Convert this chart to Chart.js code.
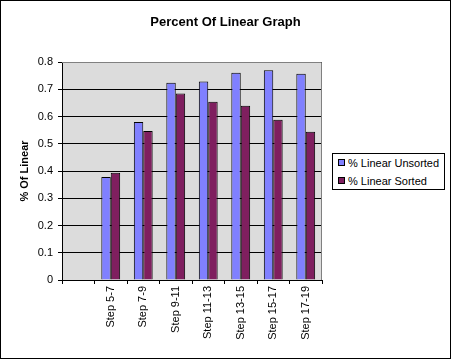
<!DOCTYPE html>
<html><head><meta charset="utf-8">
<script src="https://cdn.jsdelivr.net/npm/chart.js@4/dist/chart.umd.min.js"></script>
<style>
html,body{margin:0;padding:0;background:#fff;}
#wrap{position:absolute;left:0;top:0;width:451px;height:359px;}
#frame{position:absolute;left:0;top:0;width:451px;height:359px;box-sizing:border-box;border:1px solid #000;pointer-events:none;}
canvas{position:absolute;left:0;top:0;}
#title{position:absolute;left:0;top:14px;width:451px;text-align:center;font-family:"Liberation Sans",Arial,sans-serif;font-size:13px;font-weight:bold;line-height:15px;color:#000;}
#legend{position:absolute;left:332px;top:153px;width:113px;height:37px;box-sizing:border-box;border:1px solid #000;background:#fff;font-family:"Liberation Sans",Arial,sans-serif;font-size:11px;color:#000;}
.item{position:absolute;left:5px;height:13px;line-height:13px;white-space:nowrap;}
.sw{display:inline-block;width:5px;height:5px;border:1px solid #000;margin-right:3px;vertical-align:1px;}
</style></head>
<body>
<div id="wrap"><canvas id="c" width="451" height="359"></canvas><div id="title"></div><div id="legend"></div><div id="frame"></div></div>
<script>
const chartTitle = "Percent Of Linear Graph";
const yAxisTitle = "% Of Linear";
const categories = ["", "Step 5-7", "Step 7-9", "Step 9-11", "Step 11-13", "Step 13-15", "Step 15-17", "Step 17-19"];
const unsorted = [null, 0.378, 0.580, 0.724, 0.728, 0.761, 0.770, 0.757];
const sorted   = [null, 0.394, 0.547, 0.684, 0.654, 0.639, 0.588, 0.544];
const seriesNames = ["% Linear Unsorted", "% Linear Sorted"];
const yTicks = [0, 0.1, 0.2, 0.3, 0.4, 0.5, 0.6, 0.7, 0.8];
const colors = ["#8080FF", "#7F1F5F"];

const FONT = '"Liberation Sans", Arial, sans-serif';
Chart.defaults.font.family = FONT;
Chart.defaults.color = '#000';

const bgPlugin = {
  id: 'plotbg',
  beforeDraw(chart) {
    const {ctx, chartArea: a} = chart;
    ctx.save();
    ctx.fillStyle = '#DCDCDC';
    ctx.fillRect(a.left, a.top, a.right - a.left, a.bottom - a.top);
    ctx.restore();
  },
  afterDatasetsDraw(chart) {
    const {ctx, chartArea: a} = chart;
    ctx.save();
    ctx.strokeStyle = '#808080';
    ctx.lineWidth = 1;
    ctx.beginPath();
    ctx.moveTo(a.left, a.top + 0.5);
    ctx.lineTo(a.right - 0.5, a.top + 0.5);
    ctx.lineTo(a.right - 0.5, a.bottom);
    ctx.stroke();
    ctx.restore();
  }
};

document.getElementById('title').textContent = chartTitle;

const chart = new Chart(document.getElementById('c'), {
  type: 'bar',
  data: {
    labels: categories,
    datasets: [
      {label: seriesNames[0], data: unsorted, backgroundColor: colors[0], borderColor: '#000', borderWidth: 1, categoryPercentage: 0.58, barPercentage: 1.0},
      {label: seriesNames[1], data: sorted, backgroundColor: colors[1], borderColor: '#000', borderWidth: 1, categoryPercentage: 0.58, barPercentage: 1.0}
    ]
  },
  options: {
    responsive: false,
    animation: false,
    devicePixelRatio: 1,
    layout: {padding: {left: 0, right: 129, top: 62, bottom: 0}},
    plugins: {
      legend: {display: false},
      tooltip: {enabled: false},
      title: {display: false}
    },
    scales: {
      x: {
        offset: true,
        grid: {offset: true, drawOnChartArea: false, drawTicks: true, tickLength: 4, color: '#000', tickColor: '#000'},
        border: {display: true, color: '#000', width: 1},
        ticks: {minRotation: 90, maxRotation: 90, autoSkip: false, font: {size: 11, family: FONT}, color: '#000', padding: 2},
        afterFit(scale) { scale.height = 79; }
      },
      y: {
        min: 0, max: 0.8,
        afterBuildTicks(scale) { scale.ticks = yTicks.map(v => ({value: v})); },
        grid: {color: '#000', tickColor: '#000', tickLength: 4, drawTicks: true},
        border: {display: true, color: '#000', width: 1},
        ticks: {font: {size: 11, family: FONT}, color: '#000', padding: 5, callback: v => String(v)},
        title: {display: true, text: yAxisTitle, font: {size: 11, weight: 'bold', family: FONT}, color: '#000', padding: {top: 18, bottom: 0}},
        afterFit(scale) { scale.width = 62; }
      }
    }
  },
  plugins: [bgPlugin]
});

const lg = document.getElementById('legend');
chart.data.datasets.forEach((ds, i) => {
  const d = document.createElement('div');
  d.className = 'item';
  d.style.top = (3 + i * 18) + 'px';
  const s = document.createElement('span');
  s.className = 'sw';
  s.style.background = ds.backgroundColor;
  d.appendChild(s);
  d.appendChild(document.createTextNode(ds.label));
  lg.appendChild(d);
});
</script>
</body></html>
